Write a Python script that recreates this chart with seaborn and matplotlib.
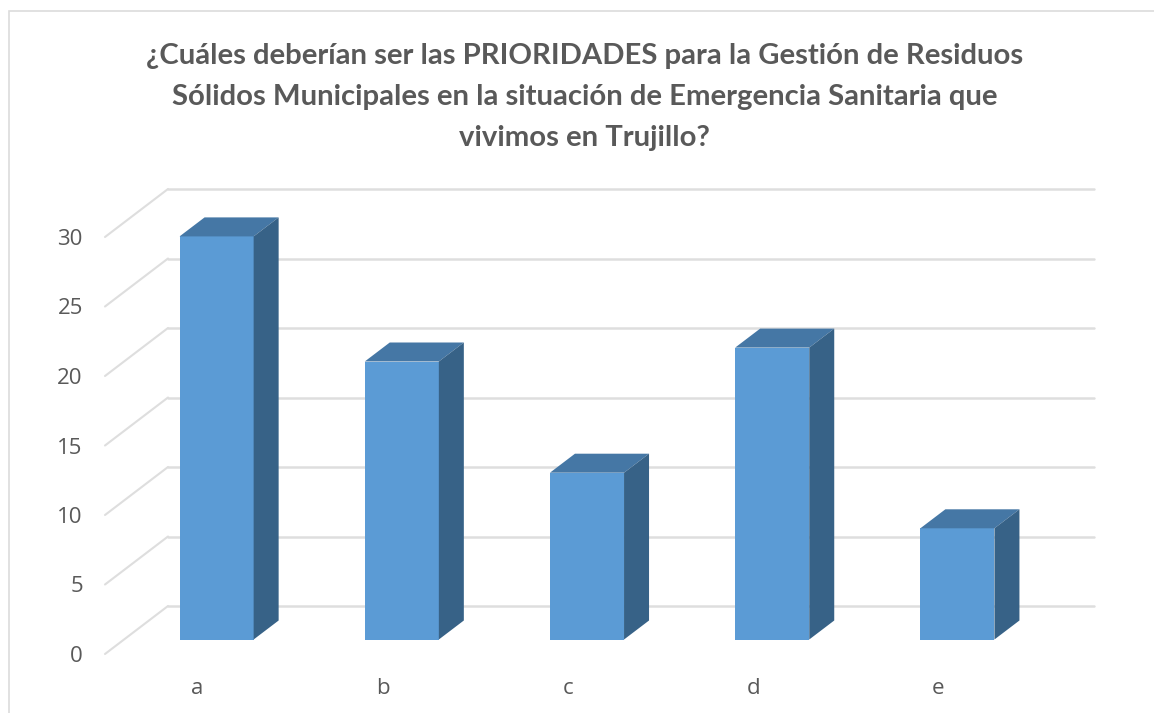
import matplotlib
matplotlib.use("Agg")
import matplotlib.pyplot as plt
import seaborn as sns
from matplotlib.patches import Polygon, Rectangle

categories = ["a", "b", "c", "d", "e"]
values = [29, 20, 12, 21, 8]
y_ticks = [0, 5, 10, 15, 20, 25, 30]

title = ("¿Cuáles deberían ser las PRIORIDADES para la Gestión de Residuos\n"
         "Sólidos Municipales en la situación de Emergencia Sanitaria que\n"
         "vivimos en Trujillo?")

W, H = 1154, 713
grid_color = "#dedede"
text_color = "#595959"

sns.set_theme(style="white")
plt.rcParams["font.family"] = ["Open Sans", "DejaVu Sans"]

fig = plt.figure(figsize=(W / 100, H / 100), dpi=100)
# front plane of the fake 3d box, in pixels
left, right, top, bottom = 105, 1031, 237, 654
ax = fig.add_axes([left / W, 1 - bottom / H, (right - left) / W, (bottom - top) / H])

sns.barplot(x=categories, y=values, color="#5b9bd5", saturation=1, width=0.4, ax=ax, zorder=3)
ax.set_xlim(-0.5, 4.5)
ax.set_ylim(0, 30)

# depth of the box and of the bars, in data units
px_x = 5 / (right - left)
px_y = 30 / (bottom - top)
box_dx, box_dy = 63 * px_x, 48 * px_y
gap_dx, gap_dy = 19 * px_x, 14.5 * px_y
bar_dx, bar_dy = 25 * px_x, 19 * px_y

# back wall and side wall lines
for v in y_ticks:
    ax.plot([-0.5, -0.5 + box_dx], [v, v + box_dy], color=grid_color, lw=1.5, clip_on=False, zorder=1)
    ax.plot([-0.5 + box_dx, 4.5 + box_dx], [v + box_dy, v + box_dy], color=grid_color, lw=1.8,
            clip_on=False, zorder=1)

# push the bars back and add top and side faces
for p in list(ax.patches):
    x0 = p.get_x() + gap_dx
    y0 = gap_dy
    w = p.get_width()
    h = p.get_height()
    p.set_x(x0)
    p.set_y(y0)
    p.set_clip_on(False)
    p.set_linewidth(0)
    ax.add_patch(Polygon([(x0, y0 + h), (x0 + w, y0 + h), (x0 + w + bar_dx, y0 + h + bar_dy),
                          (x0 + bar_dx, y0 + h + bar_dy)],
                         facecolor="#4577a5", lw=0, clip_on=False, zorder=3))
    ax.add_patch(Polygon([(x0 + w, y0), (x0 + w + bar_dx, y0 + bar_dy), (x0 + w + bar_dx, y0 + h + bar_dy),
                          (x0 + w, y0 + h)],
                         facecolor="#376287", lw=0, clip_on=False, zorder=3))

sns.despine(ax=ax, left=True, bottom=True)
ax.set_yticks(y_ticks)
ax.set_yticklabels([str(v) for v in y_ticks])
ax.tick_params(axis="y", length=0, pad=16, labelsize=16, labelcolor=text_color)
ax.tick_params(axis="x", length=0, pad=17, labelsize=16, labelcolor=text_color)

# chart border
fig.add_artist(Rectangle((9 / W, -0.1), 1.1, 1.1 - 11 / H, transform=fig.transFigure,
                         facecolor="none", edgecolor="#dcdcdc", lw=1.2))

fig.text(584.5 / W, 1 - 97 / H, title, ha="center", va="center", fontsize=21.1, fontweight="bold",
         color=text_color, family=["Lato", "DejaVu Sans"], linespacing=1.7)

fig.savefig("out.png", dpi=100)
